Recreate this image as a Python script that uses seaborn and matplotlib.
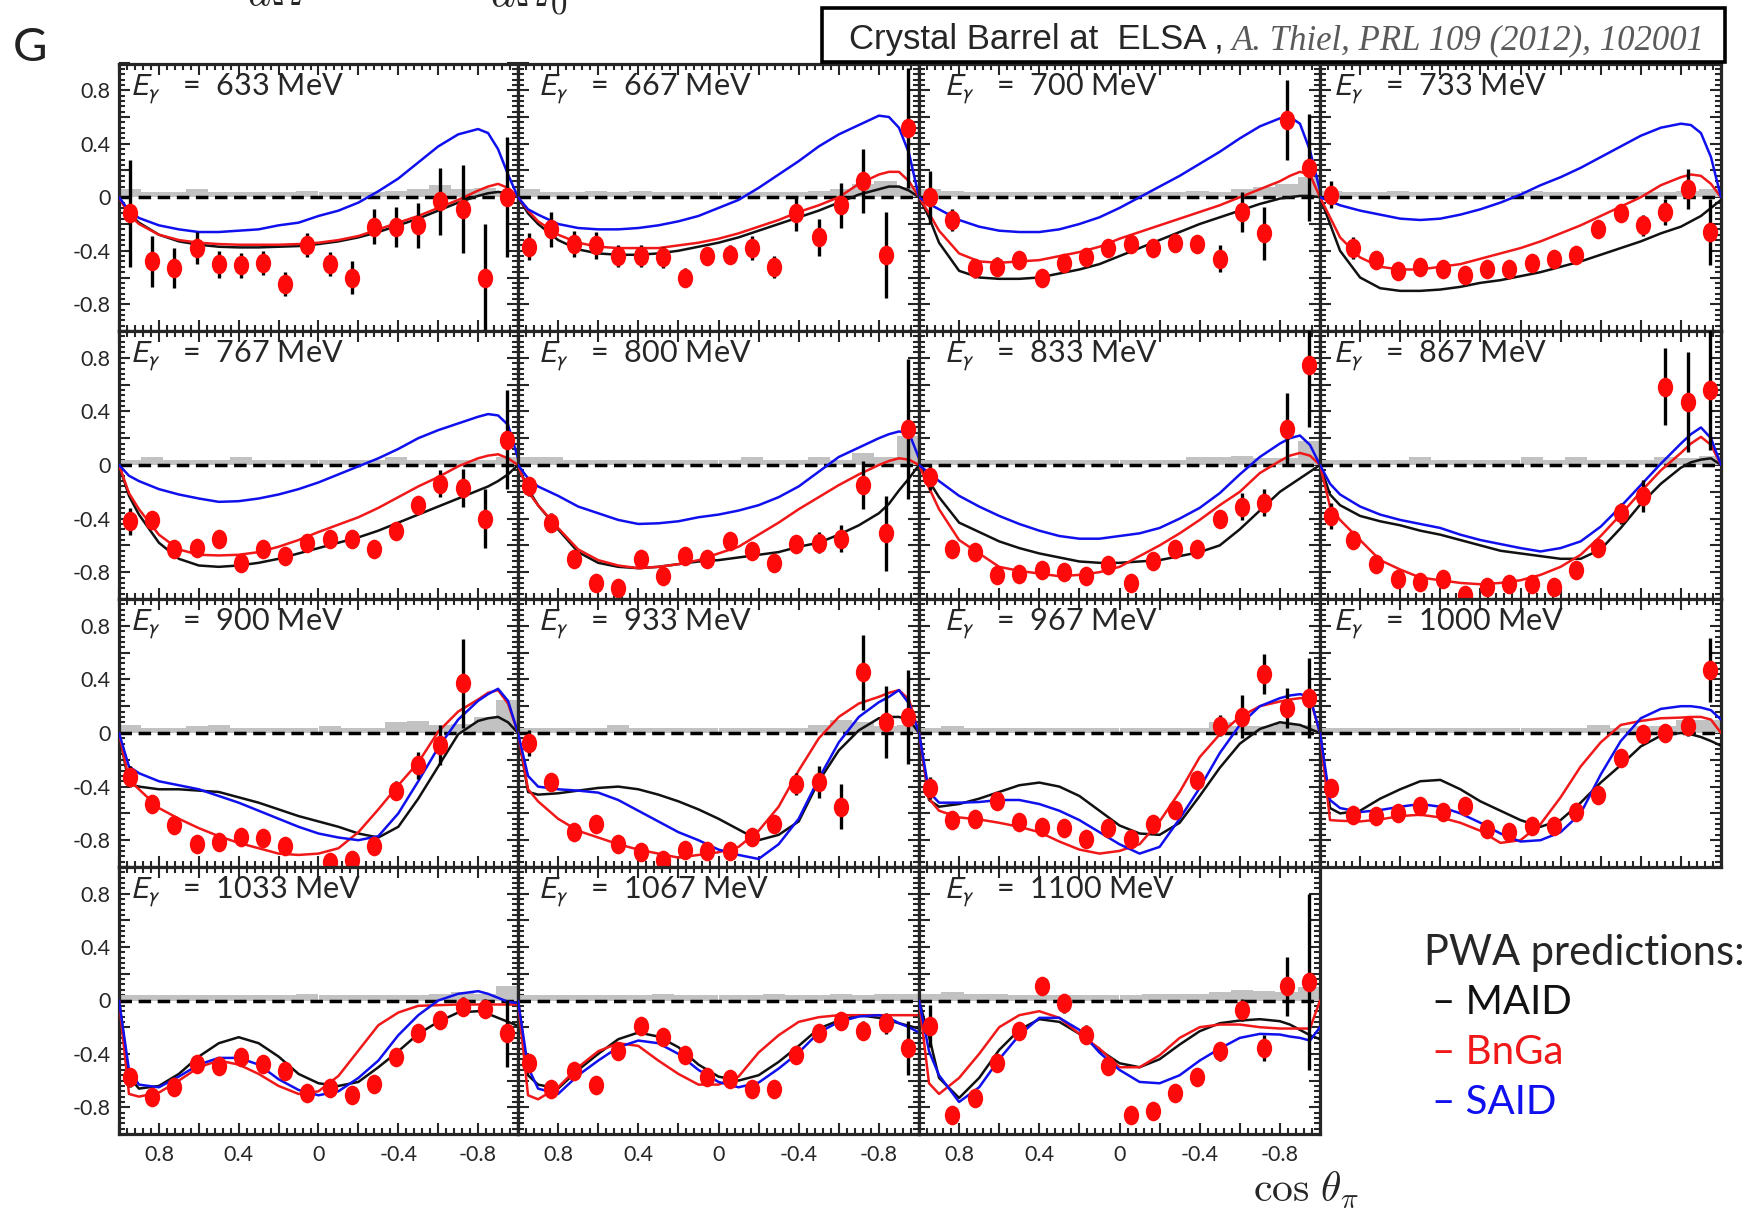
import numpy as np
import pandas as pd
import matplotlib
matplotlib.use("Agg")
import matplotlib.pyplot as plt
import seaborn as sns
from matplotlib.path import Path
from matplotlib.markers import MarkerStyle
from matplotlib.patches import Rectangle
from matplotlib.ticker import MultipleLocator, FuncFormatter

# ---------------------------------------------------------------- data
ENERGIES = [633, 667, 700, 733, 767, 800, 833, 867, 900, 933, 967, 1000, 1033, 1067, 1100]

COS_BINS = [0.944, 0.833, 0.722, 0.611, 0.5, 0.389, 0.278, 0.167, 0.056,
            -0.056, -0.167, -0.278, -0.389, -0.5, -0.611, -0.722, -0.833, -0.944]

NAN = np.nan
G_VALUES = [
    [-0.12, -0.48, -0.53, -0.38, -0.50, -0.51, -0.49, -0.65, -0.36, -0.50, -0.60, -0.22, -0.22, -0.21, -0.03, -0.09, -0.60, 0.00],
    [-0.37, -0.24, -0.35, -0.36, -0.44, -0.44, -0.45, -0.60, -0.44, -0.43, -0.38, -0.52, -0.12, -0.30, -0.06, 0.12, -0.43, 0.52],
    [0.00, -0.17, -0.53, -0.52, -0.47, -0.60, -0.49, -0.45, -0.38, -0.35, -0.38, -0.34, -0.35, -0.46, -0.11, -0.27, 0.58, 0.22],
    [0.02, -0.38, -0.47, -0.55, -0.52, -0.54, -0.58, -0.54, -0.54, -0.49, -0.46, -0.43, -0.24, -0.12, -0.21, -0.11, 0.06, -0.26],
    [-0.42, -0.41, -0.63, -0.62, -0.55, -0.73, -0.63, -0.68, -0.58, -0.55, -0.55, -0.63, -0.49, -0.30, -0.14, -0.17, -0.40, 0.19],
    [-0.16, -0.43, -0.70, -0.88, -0.92, -0.70, -0.83, -0.68, -0.70, -0.57, -0.64, -0.73, -0.59, -0.58, -0.55, -0.15, -0.51, 0.27],
    [-0.09, -0.63, -0.65, -0.82, -0.81, -0.78, -0.80, -0.83, -0.745, -0.88, -0.72, -0.63, -0.63, -0.40, -0.31, -0.28, 0.27, 0.75],
    [-0.38, -0.56, -0.74, -0.85, -0.87, -0.85, -0.97, -0.91, -0.89, -0.89, -0.91, -0.78, -0.62, -0.36, -0.23, 0.585, 0.47, 0.56],
    [-0.325, -0.53, -0.69, -0.83, -0.81, -0.775, -0.78, -0.84, NAN, -0.965, -0.95, -0.845, -0.43, -0.24, -0.09, 0.37, NAN, NAN],
    [-0.075, -0.365, -0.74, -0.68, -0.83, -0.89, -0.945, -0.87, -0.88, -0.88, -0.775, -0.68, -0.38, -0.365, -0.55, 0.455, 0.08, 0.12],
    [-0.41, -0.65, -0.64, -0.51, -0.665, -0.70, -0.71, -0.79, -0.71, -0.79, -0.68, -0.575, -0.35, 0.055, 0.12, 0.44, 0.185, 0.26],
    [-0.41, -0.61, -0.62, -0.60, -0.545, -0.59, -0.545, -0.715, -0.74, -0.695, -0.695, -0.59, -0.46, -0.19, -0.01, 0.00, 0.05, 0.47],
    [-0.575, -0.72, -0.645, -0.475, -0.49, -0.42, -0.475, -0.525, -0.695, -0.655, -0.71, -0.625, -0.425, -0.245, -0.145, -0.045, -0.06, -0.245],
    [-0.47, -0.66, -0.53, -0.63, -0.38, -0.19, -0.27, -0.405, -0.57, -0.59, -0.66, -0.66, -0.405, -0.24, -0.155, -0.225, -0.17, -0.355],
    [-0.19, -0.86, -0.73, -0.47, -0.225, 0.105, -0.02, -0.255, -0.49, -0.855, -0.83, -0.695, -0.575, -0.38, -0.07, -0.355, 0.105, 0.14],
]

G_ERRORS = [
    [0.40, 0.19, 0.15, 0.12, 0.10, 0.09, 0.09, 0.09, 0.09, 0.09, 0.12, 0.13, 0.15, 0.17, 0.25, 0.33, 0.40, 0.45],
    [0.10, 0.13, 0.10, 0.10, 0.08, 0.08, 0.08, 0.07, 0.07, 0.07, 0.09, 0.08, 0.13, 0.14, 0.17, 0.24, 0.32, 0.45],
    [0.20, 0.08, 0.07, 0.07, 0.06, 0.05, 0.05, 0.05, 0.05, 0.05, 0.05, 0.05, 0.06, 0.10, 0.15, 0.20, 0.30, 0.40],
    [0.10, 0.08, 0.06, 0.05, 0.05, 0.05, 0.05, 0.05, 0.05, 0.05, 0.05, 0.05, 0.05, 0.06, 0.08, 0.10, 0.15, 0.25],
    [0.10, 0.07, 0.06, 0.06, 0.05, 0.05, 0.05, 0.05, 0.05, 0.05, 0.05, 0.05, 0.05, 0.06, 0.10, 0.14, 0.22, 0.37],
    [0.07, 0.07, 0.06, 0.05, 0.05, 0.05, 0.05, 0.05, 0.05, 0.05, 0.05, 0.05, 0.06, 0.08, 0.10, 0.18, 0.28, 0.52],
    [0.10, 0.06, 0.06, 0.05, 0.05, 0.05, 0.05, 0.05, 0.05, 0.05, 0.05, 0.05, 0.05, 0.06, 0.10, 0.10, 0.27, 0.47],
    [0.10, 0.06, 0.06, 0.05, 0.05, 0.05, 0.05, 0.05, 0.05, 0.05, 0.05, 0.05, 0.06, 0.08, 0.12, 0.29, 0.37, 0.45],
    [0.08, 0.06, 0.05, 0.05, 0.05, 0.05, 0.05, 0.05, 0.05, 0.05, 0.05, 0.05, 0.07, 0.10, 0.15, 0.33, 0.10, 0.10],
    [0.10, 0.06, 0.05, 0.06, 0.06, 0.05, 0.05, 0.05, 0.05, 0.05, 0.05, 0.06, 0.08, 0.12, 0.17, 0.28, 0.27, 0.35],
    [0.08, 0.05, 0.05, 0.05, 0.05, 0.05, 0.05, 0.05, 0.05, 0.05, 0.05, 0.05, 0.06, 0.08, 0.16, 0.15, 0.15, 0.30],
    [0.07, 0.05, 0.05, 0.05, 0.05, 0.05, 0.05, 0.05, 0.05, 0.05, 0.05, 0.05, 0.05, 0.05, 0.07, 0.07, 0.07, 0.24],
    [0.07, 0.05, 0.05, 0.05, 0.05, 0.05, 0.05, 0.05, 0.05, 0.05, 0.05, 0.05, 0.05, 0.06, 0.07, 0.07, 0.07, 0.25],
    [0.05, 0.05, 0.05, 0.04, 0.05, 0.05, 0.05, 0.05, 0.05, 0.05, 0.05, 0.05, 0.05, 0.06, 0.06, 0.07, 0.08, 0.20],
    [0.16, 0.05, 0.06, 0.06, 0.06, 0.06, 0.07, 0.07, 0.07, 0.06, 0.06, 0.06, 0.06, 0.07, 0.08, 0.10, 0.22, 0.66],
]

# systematic uncertainties (grey bands above zero)
SYS_ERRORS = [
    [0.06, 0.04, 0.04, 0.06, 0.04, 0.04, 0.04, 0.04, 0.05, 0.04, 0.04, 0.04, 0.05, 0.06, 0.09, 0.06, 0.07, 0.05],
    [0.06, 0.04, 0.04, 0.05, 0.04, 0.05, 0.04, 0.04, 0.04, 0.04, 0.04, 0.04, 0.04, 0.05, 0.06, 0.10, 0.12, 0.08],
    [0.06, 0.05, 0.04, 0.04, 0.04, 0.04, 0.04, 0.04, 0.04, 0.04, 0.04, 0.04, 0.05, 0.04, 0.06, 0.08, 0.10, 0.15],
    [0.05, 0.04, 0.04, 0.05, 0.04, 0.04, 0.04, 0.04, 0.04, 0.05, 0.04, 0.04, 0.04, 0.04, 0.04, 0.04, 0.05, 0.06],
    [0.04, 0.06, 0.04, 0.04, 0.04, 0.06, 0.04, 0.04, 0.04, 0.04, 0.04, 0.04, 0.06, 0.04, 0.04, 0.04, 0.04, 0.06],
    [0.06, 0.06, 0.04, 0.04, 0.04, 0.04, 0.04, 0.04, 0.04, 0.04, 0.06, 0.04, 0.04, 0.06, 0.04, 0.09, 0.06, 0.22],
    [0.04, 0.04, 0.04, 0.04, 0.04, 0.04, 0.04, 0.04, 0.04, 0.04, 0.04, 0.04, 0.06, 0.06, 0.07, 0.05, 0.05, 0.18],
    [0.04, 0.04, 0.04, 0.04, 0.06, 0.04, 0.04, 0.04, 0.04, 0.06, 0.04, 0.06, 0.04, 0.04, 0.04, 0.06, 0.05, 0.07],
    [0.06, 0.04, 0.04, 0.05, 0.06, 0.04, 0.04, 0.04, 0.04, 0.05, 0.04, 0.04, 0.08, 0.09, 0.06, 0.07, 0.12, 0.25],
    [0.04, 0.04, 0.04, 0.04, 0.06, 0.04, 0.04, 0.04, 0.04, 0.04, 0.04, 0.04, 0.04, 0.06, 0.10, 0.08, 0.05, 0.06],
    [0.04, 0.05, 0.04, 0.04, 0.04, 0.04, 0.04, 0.04, 0.04, 0.04, 0.04, 0.04, 0.04, 0.08, 0.05, 0.05, 0.07, 0.06],
    [0.04, 0.04, 0.04, 0.04, 0.04, 0.04, 0.04, 0.04, 0.04, 0.04, 0.04, 0.04, 0.06, 0.04, 0.05, 0.05, 0.10, 0.10],
    [0.04, 0.04, 0.04, 0.04, 0.04, 0.04, 0.04, 0.04, 0.05, 0.04, 0.04, 0.04, 0.04, 0.04, 0.05, 0.06, 0.05, 0.11],
    [0.04, 0.04, 0.04, 0.04, 0.04, 0.04, 0.05, 0.04, 0.04, 0.04, 0.04, 0.05, 0.04, 0.04, 0.05, 0.04, 0.05, 0.05],
    [0.05, 0.06, 0.05, 0.05, 0.04, 0.04, 0.04, 0.04, 0.04, 0.04, 0.05, 0.05, 0.05, 0.06, 0.08, 0.07, 0.06, 0.10],
]

# model predictions sampled in cos(theta)
CURVE_COS = [1.0, 0.95, 0.9, 0.8, 0.7, 0.6, 0.5, 0.4, 0.3, 0.2, 0.1, 0.0,
             -0.1, -0.2, -0.3, -0.4, -0.5, -0.6, -0.7, -0.8, -0.85, -0.9, -0.95, -1.0]

MAID = [
    [0, -0.12, -0.19, -0.28, -0.33, -0.355, -0.37, -0.375, -0.375, -0.37, -0.365, -0.35, -0.33, -0.30, -0.26, -0.21, -0.16, -0.10, -0.04, 0.01, 0.03, 0.04, 0.03, 0],
    [0, -0.12, -0.2, -0.32, -0.39, -0.42, -0.43, -0.43, -0.42, -0.4, -0.37, -0.34, -0.3, -0.25, -0.2, -0.15, -0.1, -0.04, 0.02, 0.06, 0.08, 0.08, 0.05, 0],
    [0, -0.15, -0.34, -0.55, -0.6, -0.61, -0.61, -0.6, -0.57, -0.54, -0.5, -0.44, -0.38, -0.32, -0.26, -0.2, -0.15, -0.1, -0.05, -0.01, 0.0, 0.01, 0.01, 0],
    [0, -0.2, -0.4, -0.6, -0.68, -0.7, -0.7, -0.69, -0.67, -0.64, -0.62, -0.59, -0.56, -0.52, -0.48, -0.43, -0.38, -0.33, -0.27, -0.22, -0.18, -0.14, -0.08, -0.02],
    [0, -0.23, -0.37, -0.58, -0.7, -0.75, -0.76, -0.75, -0.73, -0.7, -0.66, -0.62, -0.58, -0.54, -0.49, -0.43, -0.37, -0.31, -0.25, -0.19, -0.16, -0.12, -0.07, 0],
    [0, -0.18, -0.3, -0.48, -0.65, -0.73, -0.76, -0.77, -0.76, -0.74, -0.72, -0.71, -0.69, -0.67, -0.65, -0.61, -0.58, -0.52, -0.45, -0.36, -0.29, -0.19, -0.1, 0],
    [0, -0.12, -0.24, -0.43, -0.5, -0.57, -0.62, -0.66, -0.69, -0.72, -0.73, -0.73, -0.72, -0.71, -0.68, -0.65, -0.6, -0.48, -0.34, -0.2, -0.15, -0.1, -0.05, 0],
    [0, -0.22, -0.3, -0.38, -0.42, -0.45, -0.49, -0.52, -0.56, -0.6, -0.64, -0.66, -0.68, -0.7, -0.7, -0.63, -0.47, -0.29, -0.14, -0.02, 0.02, 0.04, 0.05, 0],
    [0, -0.38, -0.4, -0.42, -0.42, -0.43, -0.44, -0.48, -0.52, -0.57, -0.62, -0.66, -0.7, -0.75, -0.78, -0.7, -0.49, -0.25, -0.01, 0.09, 0.11, 0.12, 0.08, 0],
    [0, -0.44, -0.46, -0.45, -0.43, -0.41, -0.4, -0.42, -0.46, -0.51, -0.57, -0.64, -0.72, -0.8, -0.76, -0.66, -0.36, -0.13, 0.02, 0.11, 0.12, 0.12, 0.1, 0],
    [0, -0.5, -0.55, -0.53, -0.49, -0.44, -0.39, -0.37, -0.4, -0.47, -0.58, -0.69, -0.75, -0.76, -0.67, -0.47, -0.26, -0.08, 0.03, 0.08, 0.07, 0.06, 0.03, 0],
    [0, -0.56, -0.6, -0.58, -0.49, -0.42, -0.36, -0.35, -0.42, -0.51, -0.58, -0.65, -0.7, -0.65, -0.52, -0.37, -0.24, -0.1, -0.02, 0.0, -0.01, -0.03, -0.06, -0.095],
    [0, -0.57, -0.66, -0.64, -0.55, -0.42, -0.32, -0.275, -0.32, -0.42, -0.55, -0.62, -0.64, -0.61, -0.5, -0.38, -0.25, -0.16, -0.09, -0.08, -0.1, -0.13, -0.16, -0.19],
    [0, -0.56, -0.63, -0.66, -0.52, -0.4, -0.29, -0.24, -0.27, -0.35, -0.48, -0.57, -0.6, -0.56, -0.46, -0.34, -0.21, -0.15, -0.11, -0.13, -0.15, -0.17, -0.19, -0.21],
    [0, -0.27, -0.58, -0.73, -0.58, -0.37, -0.22, -0.14, -0.16, -0.25, -0.37, -0.47, -0.5, -0.44, -0.33, -0.23, -0.17, -0.15, -0.14, -0.155, -0.18, -0.22, -0.26, -0.29],
]

BNGA = [
    [0, -0.13, -0.2, -0.28, -0.32, -0.34, -0.35, -0.355, -0.355, -0.355, -0.35, -0.34, -0.32, -0.29, -0.24, -0.19, -0.14, -0.08, -0.02, 0.05, 0.08, 0.1, 0.07, 0],
    [0, -0.1, -0.18, -0.28, -0.34, -0.37, -0.38, -0.38, -0.38, -0.36, -0.34, -0.31, -0.27, -0.22, -0.17, -0.11, -0.06, 0.0, 0.1, 0.17, 0.19, 0.19, 0.12, 0],
    [0, -0.12, -0.25, -0.42, -0.48, -0.49, -0.48, -0.47, -0.44, -0.41, -0.37, -0.31, -0.26, -0.21, -0.16, -0.11, -0.06, 0.0, 0.06, 0.12, 0.16, 0.19, 0.17, 0],
    [0, -0.15, -0.3, -0.45, -0.52, -0.54, -0.54, -0.52, -0.5, -0.46, -0.42, -0.38, -0.33, -0.27, -0.21, -0.14, -0.07, 0.0, 0.09, 0.15, 0.17, 0.16, 0.1, 0],
    [0, -0.21, -0.33, -0.52, -0.63, -0.67, -0.675, -0.67, -0.65, -0.61, -0.56, -0.5, -0.445, -0.39, -0.32, -0.24, -0.16, -0.09, -0.01, 0.05, 0.07, 0.08, 0.05, 0],
    [0, -0.2, -0.3, -0.47, -0.63, -0.71, -0.75, -0.77, -0.76, -0.74, -0.71, -0.66, -0.61, -0.52, -0.43, -0.33, -0.24, -0.15, -0.07, 0.0, 0.03, 0.05, 0.04, 0],
    [0, -0.17, -0.33, -0.56, -0.66, -0.76, -0.79, -0.81, -0.83, -0.82, -0.8, -0.76, -0.68, -0.6, -0.51, -0.41, -0.3, -0.2, -0.06, 0.03, 0.07, 0.09, 0.07, 0],
    [0, -0.31, -0.41, -0.56, -0.71, -0.78, -0.84, -0.86, -0.88, -0.89, -0.88, -0.86, -0.82, -0.76, -0.67, -0.53, -0.37, -0.2, -0.04, 0.09, 0.16, 0.21, 0.15, 0],
    [0, -0.35, -0.42, -0.56, -0.64, -0.71, -0.77, -0.82, -0.86, -0.9, -0.91, -0.9, -0.86, -0.74, -0.57, -0.39, -0.22, 0.01, 0.16, 0.25, 0.3, 0.32, 0.22, 0],
    [0, -0.42, -0.51, -0.64, -0.73, -0.78, -0.83, -0.87, -0.9, -0.93, -0.91, -0.89, -0.85, -0.73, -0.55, -0.28, -0.04, 0.12, 0.22, 0.27, 0.3, 0.32, 0.25, 0],
    [0, -0.49, -0.58, -0.63, -0.645, -0.67, -0.7, -0.74, -0.81, -0.87, -0.9, -0.88, -0.83, -0.66, -0.44, -0.18, -0.01, 0.12, 0.2, 0.235, 0.25, 0.26, 0.26, 0],
    [0, -0.65, -0.655, -0.66, -0.645, -0.62, -0.61, -0.63, -0.67, -0.73, -0.82, -0.8, -0.68, -0.48, -0.25, -0.07, 0.06, 0.09, 0.11, 0.115, 0.12, 0.12, 0.1, 0],
    [0, -0.7, -0.72, -0.69, -0.6, -0.5, -0.45, -0.48, -0.55, -0.64, -0.7, -0.68, -0.565, -0.375, -0.185, -0.09, -0.04, -0.035, -0.03, -0.03, -0.03, -0.03, -0.03, -0.03],
    [0, -0.71, -0.74, -0.65, -0.5, -0.38, -0.32, -0.34, -0.45, -0.55, -0.63, -0.63, -0.57, -0.39, -0.26, -0.16, -0.125, -0.11, -0.11, -0.11, -0.11, -0.11, -0.11, -0.11],
    [0, -0.62, -0.7, -0.58, -0.4, -0.2, -0.11, -0.08, -0.13, -0.25, -0.36, -0.5, -0.5, -0.41, -0.28, -0.2, -0.18, -0.18, -0.2, -0.21, -0.21, -0.21, -0.21, 0],
]

SAID = [
    [0, -0.1, -0.155, -0.21, -0.24, -0.26, -0.26, -0.25, -0.24, -0.21, -0.19, -0.14, -0.1, -0.04, 0.045, 0.14, 0.26, 0.38, 0.47, 0.51, 0.48, 0.36, 0.17, 0],
    [0, -0.09, -0.13, -0.2, -0.23, -0.24, -0.24, -0.23, -0.21, -0.18, -0.14, -0.08, -0.02, 0.07, 0.17, 0.27, 0.38, 0.47, 0.54, 0.61, 0.6, 0.52, 0.33, 0],
    [0, -0.05, -0.09, -0.17, -0.22, -0.25, -0.26, -0.26, -0.24, -0.2, -0.15, -0.08, 0.0, 0.08, 0.16, 0.25, 0.34, 0.44, 0.53, 0.59, 0.6, 0.55, 0.35, 0.05],
    [0, -0.03, -0.06, -0.1, -0.13, -0.16, -0.17, -0.16, -0.13, -0.09, -0.04, 0.02, 0.09, 0.15, 0.22, 0.3, 0.38, 0.46, 0.52, 0.55, 0.54, 0.48, 0.3, 0],
    [0, -0.08, -0.12, -0.18, -0.22, -0.25, -0.275, -0.27, -0.25, -0.22, -0.18, -0.13, -0.07, -0.01, 0.05, 0.12, 0.2, 0.26, 0.31, 0.36, 0.38, 0.37, 0.3, 0.05],
    [0, -0.1, -0.16, -0.23, -0.31, -0.36, -0.41, -0.44, -0.435, -0.42, -0.39, -0.37, -0.34, -0.3, -0.24, -0.16, -0.05, 0.06, 0.13, 0.2, 0.23, 0.25, 0.24, 0.05],
    [0, -0.06, -0.12, -0.23, -0.31, -0.38, -0.44, -0.49, -0.53, -0.55, -0.55, -0.53, -0.51, -0.47, -0.4, -0.32, -0.21, -0.07, 0.06, 0.16, 0.2, 0.22, 0.15, 0],
    [0, -0.14, -0.22, -0.31, -0.37, -0.41, -0.44, -0.47, -0.52, -0.56, -0.59, -0.62, -0.645, -0.62, -0.57, -0.46, -0.31, -0.15, 0.01, 0.16, 0.23, 0.28, 0.2, 0],
    [0, -0.25, -0.3, -0.36, -0.39, -0.42, -0.47, -0.52, -0.58, -0.64, -0.7, -0.75, -0.78, -0.8, -0.77, -0.6, -0.36, -0.11, 0.1, 0.24, 0.29, 0.33, 0.24, 0],
    [0, -0.32, -0.4, -0.42, -0.43, -0.445, -0.5, -0.58, -0.66, -0.74, -0.8, -0.87, -0.91, -0.94, -0.83, -0.64, -0.34, -0.07, 0.12, 0.23, 0.27, 0.32, 0.22, 0],
    [0, -0.44, -0.52, -0.52, -0.515, -0.5, -0.5, -0.53, -0.58, -0.65, -0.74, -0.83, -0.9, -0.85, -0.64, -0.41, -0.15, 0.06, 0.2, 0.26, 0.28, 0.29, 0.27, 0],
    [0, -0.5, -0.56, -0.59, -0.575, -0.55, -0.53, -0.55, -0.6, -0.67, -0.75, -0.81, -0.8, -0.74, -0.6, -0.31, -0.06, 0.11, 0.18, 0.2, 0.2, 0.19, 0.17, 0.1],
    [0, -0.52, -0.63, -0.65, -0.57, -0.48, -0.43, -0.43, -0.48, -0.59, -0.67, -0.71, -0.68, -0.58, -0.45, -0.26, -0.11, 0.0, 0.05, 0.07, 0.05, 0.02, -0.01, -0.02],
    [0, -0.5, -0.66, -0.7, -0.56, -0.45, -0.35, -0.3, -0.32, -0.4, -0.52, -0.61, -0.65, -0.615, -0.51, -0.39, -0.24, -0.16, -0.12, -0.11, -0.13, -0.17, -0.2, -0.24],
    [0, -0.38, -0.56, -0.76, -0.65, -0.44, -0.26, -0.13, -0.13, -0.22, -0.39, -0.52, -0.61, -0.62, -0.56, -0.45, -0.36, -0.28, -0.25, -0.255, -0.27, -0.28, -0.3, -0.2],
]

MODELS = ["MAID", "BnGa", "SAID"]
MODEL_COLORS = {"MAID": "#111111", "BnGa": "#f01818", "SAID": "#1010ee"}

# ---------------------------------------------------------------- style
sns.set_style("ticks")
plt.rcParams["font.family"] = ["Lato", "DejaVu Sans"]
plt.rcParams["mathtext.fontset"] = "stixsans"
plt.rcParams["axes.linewidth"] = 2.3

W, H = 1747, 1208
fig = plt.figure(figsize=(W / 100, H / 100), dpi=100)
fig.patch.set_facecolor("white")

COL_EDGES = [119, 518, 919, 1320, 1721]
ROW_EDGES = [63.5, 331, 599, 867, 1134]
LABEL_X = [0.028, 0.05, 0.062, 0.033]

ellipse = Path.unit_circle().transformed(matplotlib.transforms.Affine2D().scale(0.78, 1.0))
POINT_MARKER = MarkerStyle(ellipse)

curve_rows = []
for e, m, b, s in zip(ENERGIES, MAID, BNGA, SAID):
    for name, vals in zip(MODELS, (m, b, s)):
        for c, v in zip(CURVE_COS, vals):
            curve_rows.append((e, name, c, v))
curves = pd.DataFrame(curve_rows, columns=["energy", "model", "cos", "G"])


def tick_text(v, pos):
    q = v / 0.4
    if abs(q - round(q)) > 1e-6:
        return ""
    if abs(v) < 1e-9:
        return "0"
    return f"{v:.1f}"


for k, e in enumerate(ENERGIES):
    row, col = divmod(k, 4)
    x0, x1 = COL_EDGES[col], COL_EDGES[col + 1]
    y0, y1 = ROW_EDGES[row], ROW_EDGES[row + 1]
    ax = fig.add_axes([x0 / W, 1 - y1 / H, (x1 - x0) / W, (y1 - y0) / H])
    ax.set_facecolor("white")

    ax.bar(COS_BINS, SYS_ERRORS[k], width=2 / 18, bottom=0, color="#c2c2c2",
           linewidth=0, zorder=1)
    ax.axhline(0, color="black", lw=2.5, ls=(0, (3.6, 1.9)), zorder=2)

    sub = curves[curves["energy"] == e]
    sns.lineplot(data=sub, x="cos", y="G", hue="model", hue_order=MODELS,
                 palette=MODEL_COLORS, estimator=None, sort=False, legend=False,
                 lw=1.8, ax=ax, zorder=3)

    ax.errorbar(COS_BINS, G_VALUES[k], yerr=G_ERRORS[k], fmt="none",
                ecolor="black", elinewidth=2.4, capsize=0, zorder=4)
    pts = pd.DataFrame({"cos": COS_BINS, "G": G_VALUES[k]}).dropna()
    sns.scatterplot(data=pts, x="cos", y="G", marker=POINT_MARKER, s=200,
                    color="#ff0a0a", linewidth=0, ax=ax, zorder=5)

    ax.set_xlim(1, -1)
    ax.set_ylim(-1, 1)
    ax.set_xlabel("")
    ax.set_ylabel("")
    for axis in (ax.xaxis, ax.yaxis):
        axis.set_major_locator(MultipleLocator(0.2))
        axis.set_minor_locator(MultipleLocator(0.04))
        axis.set_major_formatter(FuncFormatter(tick_text))
    ax.tick_params(which="both", direction="in", top=True, right=True,
                   labelsize=15.5, width=1.5)
    ax.tick_params(which="major", length=8)
    ax.tick_params(which="minor", length=4)
    ax.tick_params(axis="x", pad=8)
    ax.tick_params(axis="y", pad=6)
    ax.tick_params(labelleft=(col == 0), labelbottom=(row == 3))
    for sp in ax.spines.values():
        sp.set_linewidth(2.3)
        sp.set_visible(True)

    ax.text(LABEL_X[col], 0.883, rf"$E_\gamma$   =  {e} MeV", transform=ax.transAxes,
            fontsize=22, va="baseline", ha="left", zorder=6)

# ---------------------------------------------------------------- annotations
fig.text(30 / W, 1 - 48 / H, "G", fontsize=34, ha="center", va="center",
         color="#222222")

# lower edge of the formula line that runs above the figure
fig.text(247 / W, 1 - 5 / H, r"$d\Omega$", fontsize=32, math_fontfamily="cm",
         va="baseline", ha="left")
fig.text(490 / W, 1 - 5 / H, r"$d\Omega_0$", fontsize=34, math_fontfamily="cm",
         va="baseline", ha="left")

box = Rectangle((822 / W, 1 - 62 / H), (1725 - 822) / W, (62 - 8) / H,
                transform=fig.transFigure, facecolor="white", edgecolor="black",
                linewidth=2.6, zorder=20)
fig.add_artist(box)
t1 = fig.text(849 / W, 1 - 49 / H, "Crystal Barrel at  ELSA ,", fontsize=25,
              family="Liberation Sans", va="baseline", ha="left", zorder=21)
fig.canvas.draw()
bb = t1.get_window_extent(renderer=fig.canvas.get_renderer())
fig.text((bb.x1 + 8) / W, 1 - 49 / H, "A. Thiel, PRL 109 (2012), 102001",
         fontsize=25, family="Liberation Serif", style="italic", color="#5a5a5a",
         va="baseline", ha="left", zorder=21)

fig.text(1424 / W, 1 - 965 / H, "PWA predictions:", fontsize=30, va="baseline",
         ha="left")
for name, yb in zip(MODELS, (1014, 1064, 1114)):
    fig.text(1432 / W, 1 - yb / H, "\u2013 " + name, fontsize=29,
             color=MODEL_COLORS[name], va="baseline", ha="left")

fig.text(1359 / W, 1 - 1201 / H, r"$\cos\,\theta_\pi$", fontsize=30,
         math_fontfamily="cm", va="baseline", ha="right")

fig.savefig("out.png", dpi=100, facecolor="white")
